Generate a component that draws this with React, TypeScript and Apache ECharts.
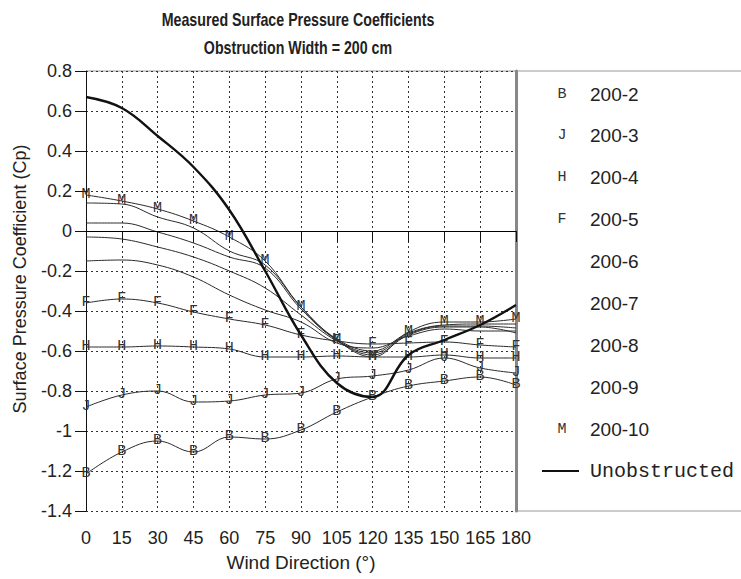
import React, { useEffect, useRef } from "react";
import * as echarts from "echarts";

const DIRECTIONS = [0, 15, 30, 45, 60, 75, 90, 105, 120, 135, 150, 165, 180];
const Y_TICKS = [-1.4, -1.2, -1, -0.8, -0.6, -0.4, -0.2, 0, 0.2, 0.4, 0.6, 0.8];

const S200_2 = [-1.215, -1.105, -1.05, -1.105, -1.03, -1.04, -0.995, -0.905, -0.83, -0.775, -0.75, -0.73, -0.77];
const S200_3 = [-0.88, -0.82, -0.8, -0.855, -0.85, -0.82, -0.81, -0.74, -0.725, -0.695, -0.635, -0.685, -0.71];
const S200_4 = [-0.58, -0.58, -0.575, -0.58, -0.59, -0.63, -0.63, -0.625, -0.63, -0.63, -0.62, -0.635, -0.635];
const S200_5 = [-0.36, -0.34, -0.36, -0.405, -0.44, -0.47, -0.52, -0.55, -0.565, -0.56, -0.555, -0.57, -0.58];
const S200_6 = [0.14, 0.135, 0.07, 0.015, -0.1, -0.17, -0.38, -0.54, -0.6, -0.51, -0.47, -0.465, -0.465];
const S200_7 = [0.04, 0.04, -0.005, -0.06, -0.13, -0.185, -0.39, -0.545, -0.61, -0.515, -0.475, -0.475, -0.485];
const S200_8 = [-0.03, -0.04, -0.08, -0.13, -0.2, -0.285, -0.42, -0.55, -0.62, -0.52, -0.48, -0.48, -0.51];
const S200_9 = [-0.15, -0.145, -0.17, -0.23, -0.32, -0.395, -0.455, -0.56, -0.585, -0.525, -0.49, -0.5, -0.5];
const S200_10 = [0.18, 0.15, 0.11, 0.05, -0.03, -0.15, -0.38, -0.545, -0.63, -0.505, -0.455, -0.455, -0.44];
const UNOBSTRUCTED = [0.67, 0.615, 0.475, 0.32, 0.105, -0.2, -0.52, -0.76, -0.83, -0.62, -0.545, -0.47, -0.37];

const SERIES_NAMES = ["200-2", "200-3", "200-4", "200-5", "200-6", "200-7", "200-8", "200-9", "200-10", "Unobstructed"];
const SERIES_LETTERS = ["B", "J", "H", "F", "", "", "", "", "M", ""];
const SERIES_VALUES = [S200_2, S200_3, S200_4, S200_5, S200_6, S200_7, S200_8, S200_9, S200_10, UNOBSTRUCTED];

const TITLE = "Measured Surface Pressure Coefficients";
const SUBTITLE = "Obstruction Width = 200 cm";
const X_NAME = "Wind Direction (°)";
const Y_NAME = "Surface Pressure Coefficient (Cp)";

const SANS = "Liberation Sans, Arial, sans-serif";
const MONO = "Courier New, Liberation Mono, monospace";

export default function App() {
  const ref = useRef<HTMLDivElement>(null);
  useEffect(() => {
    document.body.style.margin = "0";
    const chart = echarts.init(ref.current!, undefined, { renderer: "svg" });

    const series: any[] = SERIES_NAMES.map((name, i) => {
      const letter = SERIES_LETTERS[i];
      const isUnob = name === "Unobstructed";
      const s: any = {
        name,
        type: "line",
        data: DIRECTIONS.map((d, j) => [d, SERIES_VALUES[i][j]]),
        smooth: 0.4,
        silent: true,
        color: "#2a2a2a",
        lineStyle: { color: isUnob ? "#111" : "#2a2a2a", width: isUnob ? 2.4 : 1 },
        itemStyle: { color: "#2a2a2a", borderWidth: 0 },
        symbol: "circle",
        symbolSize: 0.1,
        showSymbol: letter !== "",
        label: letter
          ? {
              show: true,
              position: [0, 0],
              align: "center",
              verticalAlign: "middle",
              formatter: letter,
              fontFamily: MONO,
              fontSize: 15,
              color: "#333",
            }
          : { show: false },
        emphasis: { disabled: true },
        z: isUnob ? 5 : 3,
      };
      if (i === 0) {
        s.markLine = {
          silent: true,
          symbol: ["none", "none"],
          label: { show: false },
          lineStyle: { type: "solid", color: "#000", width: 1 },
          data: [{ yAxis: 0 }],
        };
      }
      return s;
    });

    const legendTop = 94;
    const legendStep = 41.9;
    const legendGraphics: any[] = [];
    SERIES_NAMES.forEach((name, i) => {
      const y = legendTop + i * legendStep;
      const isUnob = name === "Unobstructed";
      if (isUnob) {
        legendGraphics.push({
          type: "line",
          shape: { x1: 542, y1: y, x2: 579, y2: y },
          style: { stroke: "#111", lineWidth: 2 },
        });
      } else if (SERIES_LETTERS[i]) {
        legendGraphics.push({
          type: "text",
          x: 562,
          y,
          style: {
            text: SERIES_LETTERS[i],
            fontFamily: MONO,
            fontSize: 15,
            fill: "#333",
            align: "center",
            verticalAlign: "middle",
          },
        });
      }
      legendGraphics.push({
        type: "text",
        x: 590,
        y,
        style: {
          text: name,
          fontFamily: isUnob ? MONO : SANS,
          fontSize: isUnob ? 20 : 19,
          fill: "#222",
          align: "left",
          verticalAlign: "middle",
        },
      });
    });

    const titleStyle = (text: string) => ({
      text,
      fontFamily: SANS,
      fontWeight: "bold",
      fontSize: 18,
      fill: "#222",
      align: "center",
      verticalAlign: "middle",
    });

    chart.setOption({
      animation: false,
      backgroundColor: "#fff",
      grid: { left: 86, right: 225, top: 71, bottom: 68 },
      xAxis: {
        type: "value",
        min: 0,
        max: 180,
        interval: 15,
        name: X_NAME,
        nameLocation: "middle",
        nameGap: 42,
        nameTextStyle: { fontFamily: SANS, fontSize: 19, color: "#222" },
        axisLine: { show: true, lineStyle: { color: "#111", width: 1 } },
        axisTick: { show: true, length: 11, lineStyle: { color: "#111" } },
        axisLabel: { fontFamily: SANS, fontSize: 18, color: "#222", margin: 18 },
        splitLine: { show: true, lineStyle: { type: [2, 3], color: "#333", width: 1 } },
      },
      yAxis: [
        {
          type: "value",
          min: Y_TICKS[0],
          max: Y_TICKS[Y_TICKS.length - 1],
          interval: 0.2,
          name: Y_NAME,
          nameLocation: "middle",
          nameGap: 57,
          nameTextStyle: { fontFamily: SANS, fontSize: 18, color: "#222", padding: [0, 0, 0, 24] },
          axisLine: { show: true, lineStyle: { color: "#111", width: 1 } },
          axisTick: { show: true, length: 11, lineStyle: { color: "#111" } },
          axisLabel: { fontFamily: SANS, fontSize: 18, color: "#222", margin: 14 },
          splitLine: { show: true, lineStyle: { type: [2, 3], color: "#333", width: 1 } },
        },
        {
          type: "value",
          position: "right",
          min: Y_TICKS[0],
          max: Y_TICKS[Y_TICKS.length - 1],
          interval: 0.2,
          axisLine: { show: true, lineStyle: { color: "#888", width: 3 } },
          axisTick: { show: false },
          axisLabel: { show: false },
          splitLine: { show: false },
        },
      ],
      graphic: [
        { type: "text", x: 298, y: 19, scaleX: 0.79, style: titleStyle(TITLE) },
        { type: "text", x: 298, y: 47, scaleX: 0.79, style: titleStyle(SUBTITLE) },
        { type: "line", shape: { x1: 86, y1: 71, x2: 741, y2: 71 }, style: { stroke: "#999", lineWidth: 1 } },
        { type: "line", shape: { x1: 516, y1: 511, x2: 741, y2: 511 }, style: { stroke: "#999", lineWidth: 1 } },
        ...legendGraphics,
      ],
      series,
    });
    return () => chart.dispose();
  }, []);
  return <div ref={ref} style={{ position: "fixed", left: 0, top: 0, width: 741, height: 579 }} />;
}
